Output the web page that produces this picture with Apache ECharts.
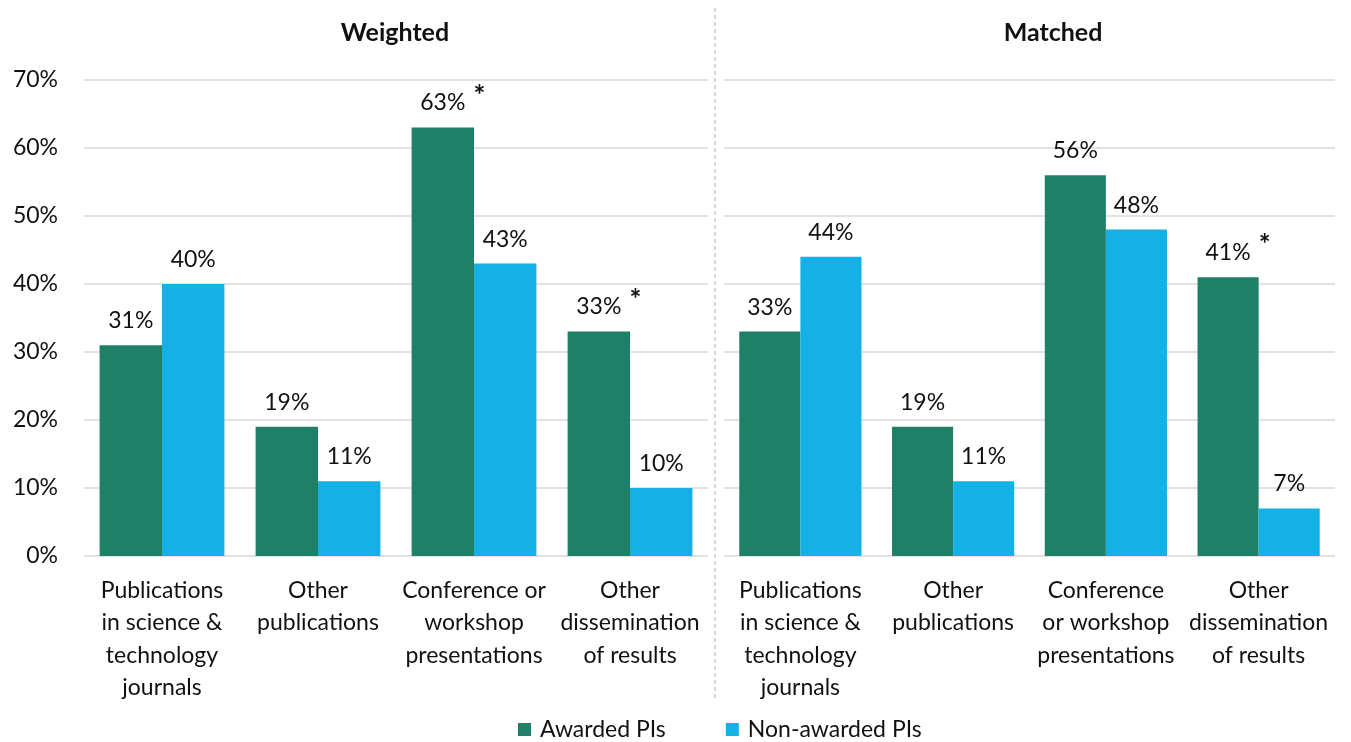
<!DOCTYPE html>
<html>
<head>
<meta charset="utf-8">
<script src="https://cdn.jsdelivr.net/npm/echarts@6/dist/echarts.min.js"></script>
<style>
  html, body { margin: 0; padding: 0; background: #fff; }
  #chart { width: 1351px; height: 742px; }
</style>
</head>
<body>
<div id="chart"></div>
<script>
// Panel titles
const panelTitles = ['Weighted', 'Matched'];

// Categories per panel (line breaks differ with panel width)
const weightedCategories = [
  'Publications\nin science &\ntechnology\njournals',
  'Other\npublications',
  'Conference or\nworkshop\npresentations',
  'Other\ndissemination\nof results'
];
const matchedCategories = [
  'Publications\nin science &\ntechnology\njournals',
  'Other\npublications',
  'Conference\nor workshop\npresentations',
  'Other\ndissemination\nof results'
];

// Series names
const seriesNames = ['Awarded PIs', 'Non-awarded PIs'];

// Percent values
const weightedAwarded = [31, 19, 63, 33];
const weightedNonAwarded = [40, 11, 43, 10];
const matchedAwarded = [33, 19, 56, 41];
const matchedNonAwarded = [44, 11, 48, 7];

// Significant differences (asterisk on the awarded label)
const weightedSignificant = [false, false, true, true];
const matchedSignificant = [false, false, false, true];

// Y axis
const yMin = 0, yMax = 70, yStep = 10;

const GREEN = '#1E8066';
const BLUE = '#14B1E7';
const TEXT = '#111';
const FONT = 'Lato, "Open Sans", sans-serif';
const FS = 23;
const LABEL_DIST = 13;
const STAR_LIFT = 14;

const labelRich = {
  v: { fontSize: FS, fontFamily: FONT, color: TEXT },
  s: {
    fontSize: 28, fontWeight: 'bold', fontFamily: FONT, color: TEXT,
    width: 20, align: 'right', padding: [0, 0, STAR_LIFT, 0]
  },
  pad: { width: 20 }
};

// Data items; flagged items get a raised asterisk, and their label distance
// is adjusted so the number sits at the same height as the others.
function toItems(values, sigArr) {
  return values.map(function (v, i) {
    const sig = sigArr && sigArr[i];
    return {
      value: v,
      label: {
        distance: sig ? LABEL_DIST - STAR_LIFT + 5 : LABEL_DIST,
        formatter: sig ? '{pad|}{v|{c}%}{s|*}' : '{v|{c}%}'
      }
    };
  });
}

function barSeries(name, values, color, idx, sigArr) {
  return {
    name: name,
    type: 'bar',
    xAxisIndex: idx,
    yAxisIndex: idx,
    data: toItems(values, sigArr),
    barGap: '0%',
    barCategoryGap: '20%',
    itemStyle: { color: color },
    label: { show: true, position: 'top', distance: LABEL_DIST, rich: labelRich },
    emphasis: { disabled: true }
  };
}

const chart = echarts.init(document.getElementById('chart'), null, { renderer: 'canvas' });

const xAxisCommon = {
  type: 'category',
  axisLine: { show: false },
  axisTick: { show: false },
  axisLabel: {
    fontSize: FS,
    fontFamily: FONT,
    color: TEXT,
    lineHeight: 32.5,
    margin: 18,
    interval: 0
  }
};

const yAxisCommon = {
  type: 'value',
  min: yMin,
  max: yMax,
  interval: yStep,
  axisLine: { show: false },
  axisTick: { show: false },
  splitLine: { lineStyle: { color: '#d9d9d9', width: 1.5 } }
};

const titleStyle = { fontSize: 25, fontWeight: 'bold', fontFamily: FONT, color: TEXT };

chart.setOption({
  animation: false,
  title: [
    { text: panelTitles[0], left: 390, top: 15, textAlign: 'center', textStyle: titleStyle },
    { text: panelTitles[1], left: 1048, top: 15, textAlign: 'center', textStyle: titleStyle }
  ],
  legend: {
    bottom: -4,
    left: 513,
    itemWidth: 13,
    itemHeight: 13,
    itemGap: 60,
    icon: 'rect',
    textStyle: { fontSize: FS, fontFamily: FONT, color: TEXT, padding: [0, 0, 0, 4] },
    data: seriesNames
  },
  grid: [
    { left: 84, right: 643, top: 80, bottom: 186 },
    { left: 724, right: 16, top: 80, bottom: 186 }
  ],
  xAxis: [
    Object.assign({}, xAxisCommon, { gridIndex: 0, data: weightedCategories }),
    Object.assign({}, xAxisCommon, { gridIndex: 1, data: matchedCategories })
  ],
  yAxis: [
    Object.assign({}, yAxisCommon, {
      gridIndex: 0,
      axisLabel: {
        fontSize: FS, fontFamily: FONT, color: TEXT, margin: 26,
        formatter: '{value}%'
      }
    }),
    Object.assign({}, yAxisCommon, { gridIndex: 1, axisLabel: { show: false } })
  ],
  graphic: [
    {
      type: 'line',
      shape: { x1: 715, y1: 8, x2: 715, y2: 700 },
      style: { stroke: '#bfbfbf', lineWidth: 1.2, lineDash: [4, 3] },
      silent: true
    }
  ],
  series: [
    barSeries(seriesNames[0], weightedAwarded, GREEN, 0, weightedSignificant),
    barSeries(seriesNames[1], weightedNonAwarded, BLUE, 0, null),
    barSeries(seriesNames[0], matchedAwarded, GREEN, 1, matchedSignificant),
    barSeries(seriesNames[1], matchedNonAwarded, BLUE, 1, null)
  ]
});
</script>
</body>
</html>
